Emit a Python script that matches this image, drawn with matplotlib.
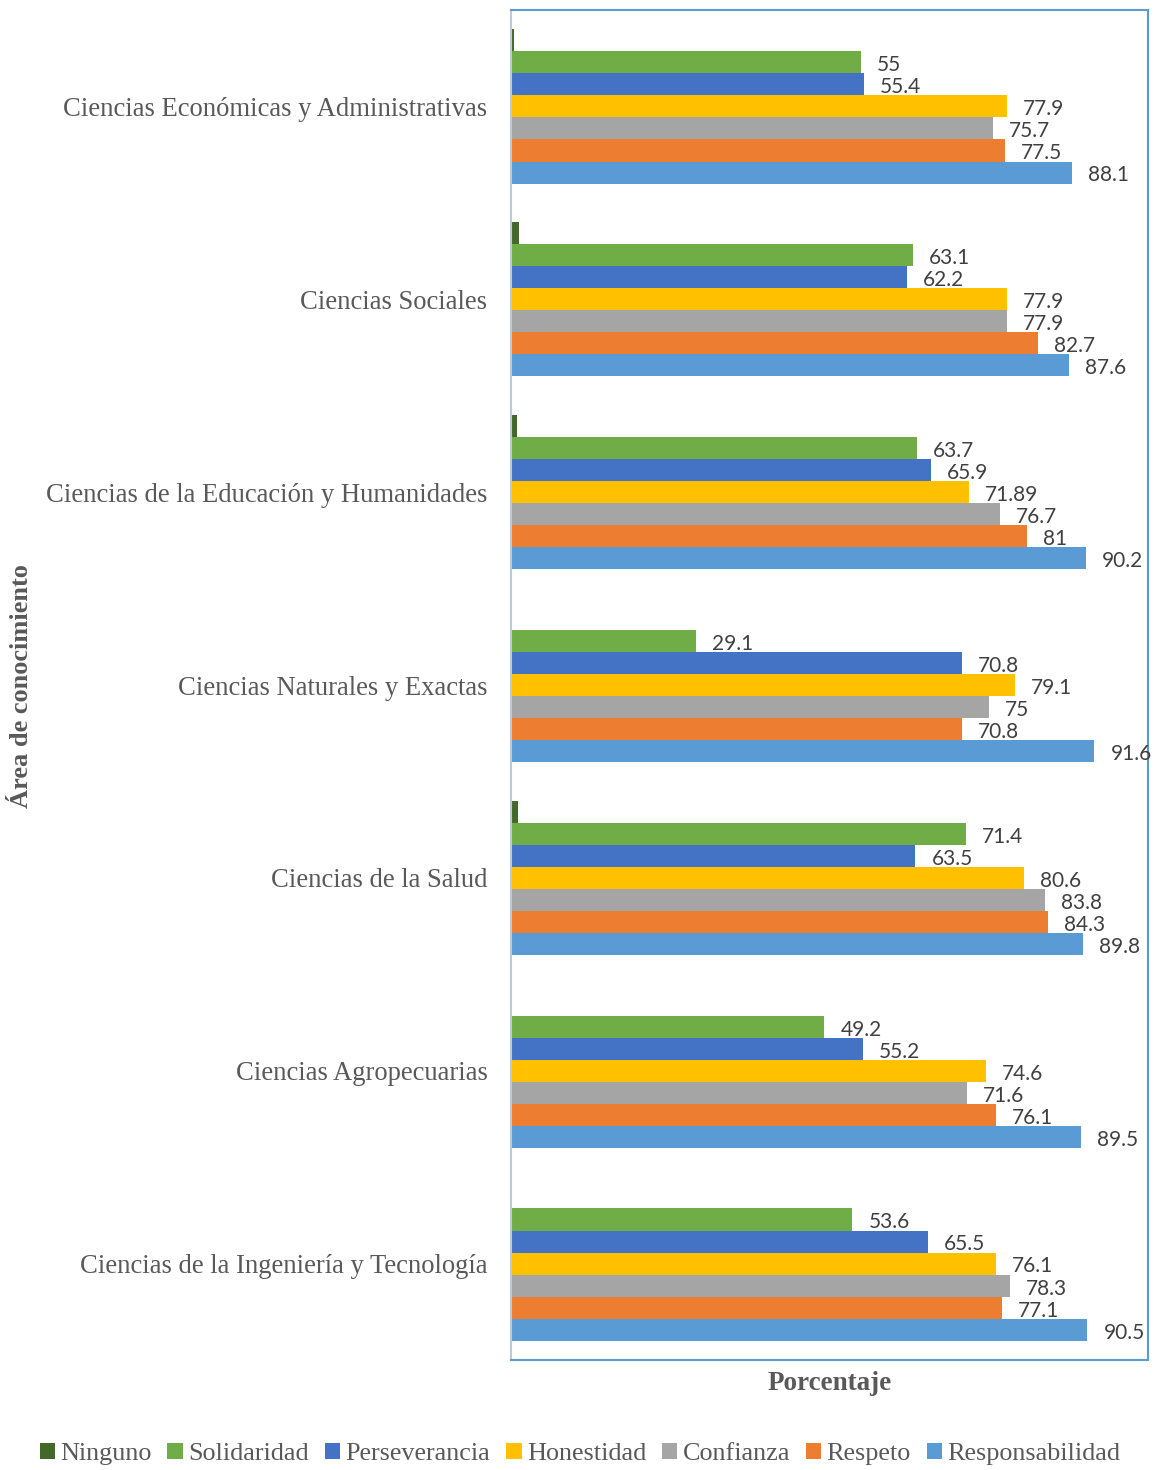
import matplotlib.pyplot as plt
import numpy as np

categories = [
    "Ciencias Económicas y Administrativas",
    "Ciencias Sociales",
    "Ciencias de la Educación y Humanidades",
    "Ciencias Naturales y Exactas",
    "Ciencias de la Salud",
    "Ciencias Agropecuarias",
    "Ciencias de la Ingeniería y Tecnología",
]

series_names = ["Ninguno", "Solidaridad", "Perseverancia", "Honestidad",
                "Confianza", "Respeto", "Responsabilidad"]
series_colors = ["#43682B", "#70AD47", "#4472C4", "#FFC000",
                 "#A5A5A5", "#ED7D31", "#5B9BD5"]

ninguno = [0.5, 1.3, 0.9, 0.0, 1.1, 0.0, 0.2]
solidaridad = [55, 63.1, 63.7, 29.1, 71.4, 49.2, 53.6]
perseverancia = [55.4, 62.2, 65.9, 70.8, 63.5, 55.2, 65.5]
honestidad = [77.9, 77.9, 71.89, 79.1, 80.6, 74.6, 76.1]
confianza = [75.7, 77.9, 76.7, 75, 83.8, 71.6, 78.3]
respeto = [77.5, 82.7, 81, 70.8, 84.3, 76.1, 77.1]
responsabilidad = [88.1, 87.6, 90.2, 91.6, 89.8, 89.5, 90.5]

# Value labels shown next to the bars (Ninguno has none)
labeled = [False, True, True, True, True, True, True]

series = [ninguno, solidaridad, perseverancia, honestidad,
          confianza, respeto, responsabilidad]

fig = plt.figure(figsize=(11.58, 14.70), dpi=100)
ax = fig.add_axes([511 / 1158, 1 - 1360 / 1470, (1148 - 511) / 1158, (1360 - 10) / 1470])

n_cat = len(categories)
n_ser = len(series)
group_w = 0.8
bar_h = group_w / n_ser
centers = np.arange(n_cat)[::-1].astype(float)

for j, (vals, name, col) in enumerate(zip(series, series_names, series_colors)):
    y = centers + group_w / 2 - bar_h * (j + 0.5)
    ax.barh(y, vals, height=bar_h, color=col, label=name, edgecolor='none')
    if labeled[j]:
        for yy, v in zip(y, vals):
            ax.text(v + 2.5, yy - 0.015, f"{v:g}", va='center', ha='left',
                    fontsize=15, color='#404040', family=['Lato', 'DejaVu Sans'])

ax.set_xlim(0, 100)
ax.set_ylim(-0.5, n_cat - 0.5)
ax.set_yticks(centers)
ax.set_yticklabels(categories, family=['Liberation Serif'], fontsize=19.2, color='#595959')
ax.tick_params(axis='y', length=0, pad=17)
ax.set_xticks([])

for s in ['top', 'right', 'bottom']:
    ax.spines[s].set_color('#5B9BD5')
    ax.spines[s].set_linewidth(1.5)
ax.spines['left'].set_color('#BFC9D6')
ax.spines['left'].set_linewidth(1.5)

fig.text(830 / 1158, 1 - 1383 / 1470, "Porcentaje", ha='center', va='center',
         family=['Liberation Serif'], fontsize=19.5, fontweight='bold', color='#595959')
fig.text(22 / 1158, 1 - 686 / 1470, "Área de conocimiento", ha='center', va='center',
         rotation=90, family=['Liberation Serif'], fontsize=19, fontweight='bold',
         color='#595959')

handles, labels = ax.get_legend_handles_labels()
fig.legend(handles, labels, loc='center', bbox_to_anchor=(580 / 1158, 1 - 1454 / 1470),
           ncol=7, frameon=False, prop={'family': 'Liberation Serif', 'size': 18.8},
           handlelength=0.6, handleheight=0.6, handletextpad=0.2, columnspacing=0.6,
           labelcolor='#595959')

fig.savefig("out.png", dpi=100, facecolor='white')
